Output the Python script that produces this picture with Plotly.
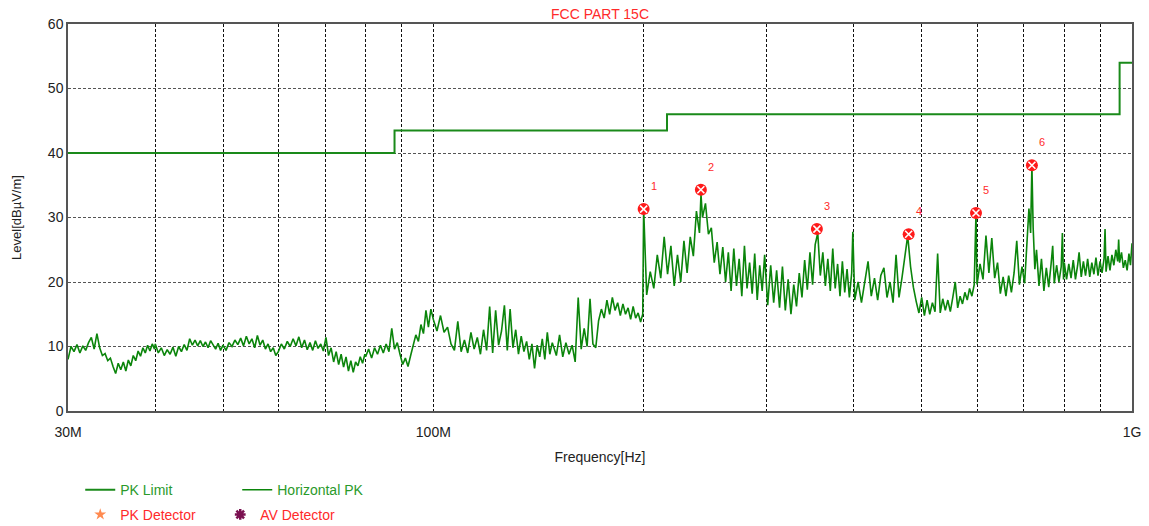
import numpy as np
import plotly.graph_objects as go

# ---------------- data ----------------
x_tick_mhz = [30, 100, 1000]
x_tick_text = ["30M", "100M", "1G"]
x_grid_mhz = [40, 50, 60, 70, 80, 90, 100, 200, 300, 400, 500, 600, 700, 800, 900]

limit_freq_mhz = [30, 88, 216, 960, 1000]
limit_level = [40.0, 43.5, 46.0, 54.0, 54.0]

marker_freq_mhz = [200.0, 241.5, 354.0, 479.0, 598.0, 719.0]
marker_level = [31.3, 34.3, 28.2, 27.4, 30.7, 38.1]
marker_labels = ["1", "2", "3", "4", "5", "6"]

# measured horizontal peak sweep, (MHz, dBuV/m)
seg_030_040 = [(30.0, 8.0), (30.3, 10.0), (30.6, 9.2), (30.9, 10.3), (31.2, 9.0), (31.5, 10.1), (31.8, 9.4),
               (32.1, 10.6), (32.4, 11.4), (32.7, 9.6), (33.0, 12.0), (33.3, 9.8), (33.6, 8.6), (33.9, 8.9),
               (34.2, 7.8), (34.5, 8.2), (34.8, 6.9), (35.1, 5.8), (35.4, 7.4), (35.7, 6.4), (36.0, 7.6),
               (36.3, 6.2), (36.6, 7.9), (36.9, 7.0), (37.2, 8.6), (37.5, 7.8), (37.8, 9.3), (38.1, 8.5),
               (38.4, 9.8), (38.7, 9.0), (39.0, 10.2), (39.3, 9.3), (39.6, 10.4), (39.9, 9.6)]
seg_040_050 = [(40.0, 10.4), (40.4, 9.0), (40.8, 9.8), (41.2, 8.6), (41.6, 9.5), (42.0, 8.8), (42.4, 9.9),
               (42.8, 8.5), (43.2, 10.0), (43.6, 9.2), (44.0, 10.3), (44.4, 9.4), (44.8, 11.2), (45.2, 10.2),
               (45.6, 11.0), (46.0, 10.1), (46.4, 10.9), (46.8, 10.0), (47.2, 10.7), (47.6, 9.8), (48.0, 10.9),
               (48.4, 10.3), (48.8, 9.6), (49.2, 10.5), (49.6, 9.4)]
seg_050_060 = [(50.0, 10.2), (50.5, 9.4), (51.0, 10.6), (51.5, 10.0), (52.0, 11.0), (52.5, 10.3), (53.0, 11.3),
               (53.5, 10.1), (54.0, 11.6), (54.5, 10.4), (55.0, 11.2), (55.5, 9.8), (56.0, 11.7), (56.5, 10.2),
               (57.0, 11.0), (57.5, 9.6), (58.0, 10.4), (58.5, 9.2), (59.0, 9.8), (59.5, 8.6)]
seg_060_080 = [(60.0, 9.2), (60.6, 10.4), (61.2, 9.6), (61.8, 10.8), (62.4, 10.0), (63.0, 11.2), (63.6, 10.1),
               (64.2, 11.5), (64.8, 9.8), (65.4, 11.0), (66.0, 9.5), (66.6, 10.6), (67.2, 9.4), (67.8, 10.9),
               (68.4, 9.7), (69.0, 10.4), (69.6, 9.3), (70.2, 11.4), (70.8, 8.6), (71.4, 9.8), (72.0, 7.6),
               (72.6, 9.2), (73.2, 7.2), (73.8, 8.8), (74.4, 6.8), (75.0, 8.4), (75.6, 6.2), (76.2, 7.8),
               (76.8, 6.0), (77.4, 7.6), (78.0, 7.0), (78.6, 8.4), (79.2, 7.4), (79.8, 8.8)]
seg_080_100 = [(80.0, 8.4), (80.8, 9.6), (81.6, 8.2), (82.4, 9.8), (83.2, 8.8), (84.0, 10.2), (84.8, 9.0),
               (85.6, 10.4), (86.4, 9.2), (87.2, 12.8), (88.0, 9.6), (88.8, 10.6), (89.6, 8.8), (90.4, 7.2),
               (91.2, 8.2), (92.0, 6.9), (92.8, 8.6), (93.6, 10.2), (94.4, 11.8), (95.2, 10.8), (96.0, 13.4),
               (96.8, 12.0), (97.6, 15.6), (98.4, 13.0), (99.2, 15.8)]
seg_100_150 = [(100.0, 14.2), (101.2, 12.4), (102.4, 14.8), (103.6, 12.2), (104.8, 13.0), (106.0, 10.4),
               (107.2, 9.4), (108.4, 13.9), (109.6, 9.2), (110.8, 11.0), (112.0, 9.0), (113.2, 12.2),
               (114.4, 9.6), (115.6, 11.4), (116.8, 8.8), (118.0, 12.6), (119.2, 9.4), (120.4, 16.2),
               (121.6, 9.0), (122.8, 15.6), (124.0, 10.2), (125.2, 12.4), (126.4, 16.4), (127.6, 9.4),
               (128.8, 15.8), (130.0, 9.8), (131.2, 12.6), (132.4, 8.8), (133.6, 11.6), (134.8, 9.2),
               (136.0, 10.8), (137.2, 8.0), (138.4, 10.4), (139.6, 6.6), (140.8, 10.2), (142.0, 8.4),
               (143.2, 11.2), (144.4, 8.0), (145.6, 12.2), (146.8, 8.8), (148.0, 10.6)]
seg_150_200 = [(150.0, 8.6), (151.6, 11.8), (153.2, 8.4), (154.8, 10.6), (156.4, 8.8), (158.0, 10.2),
               (159.6, 7.6), (161.2, 17.6), (162.8, 9.6), (164.4, 12.8), (166.0, 10.0), (167.6, 17.4),
               (169.2, 10.4), (170.8, 9.8), (172.4, 14.0), (174.0, 15.8), (175.6, 14.4), (177.2, 17.2),
               (178.8, 15.0), (180.4, 17.6), (182.0, 15.6), (183.6, 16.8), (185.2, 14.8), (186.8, 16.6),
               (188.4, 15.0), (190.0, 16.0), (191.6, 14.2), (193.2, 16.2), (194.8, 14.4), (196.4, 15.2),
               (198.0, 13.8), (199.4, 15.0), (200.0, 31.3)]
seg_200_300 = [(202.0, 18.0), (204.4, 21.6), (206.8, 19.0), (209.2, 24.2), (211.6, 20.6), (214.0, 27.0),
               (216.4, 21.2), (218.8, 25.6), (221.2, 19.4), (223.6, 24.2), (226.0, 20.0), (228.4, 26.4),
               (230.8, 21.4), (233.2, 27.0), (235.6, 24.0), (238.0, 31.0), (240.4, 27.6), (241.6, 33.6),
               (242.8, 30.0), (245.2, 32.2), (247.6, 27.4), (250.0, 28.4), (252.4, 23.0), (254.8, 26.2),
               (257.2, 21.2), (259.6, 25.4), (262.0, 20.0), (264.4, 24.6), (266.8, 18.6), (269.2, 25.2),
               (271.6, 19.4), (274.0, 23.6), (276.4, 17.8), (278.8, 25.6), (281.2, 19.0), (283.6, 23.0),
               (286.0, 18.2), (288.4, 24.4), (290.8, 17.2), (293.2, 22.6), (295.6, 18.6), (298.0, 24.2)]
seg_300_400 = [(301.0, 16.4), (304.0, 22.6), (307.0, 16.8), (310.0, 21.8), (313.0, 16.0), (316.0, 22.4),
               (319.0, 15.6), (322.0, 20.4), (325.0, 15.0), (328.0, 19.6), (331.0, 16.2), (334.0, 21.4),
               (337.0, 17.6), (340.0, 23.4), (343.0, 18.8), (346.0, 24.6), (349.0, 19.6), (352.0, 25.8),
               (355.0, 27.6), (358.0, 21.0), (361.0, 24.6), (364.0, 19.4), (367.0, 23.6), (370.0, 18.6),
               (373.0, 25.2), (376.0, 19.0), (379.0, 22.8), (382.0, 17.8), (385.0, 23.2), (388.0, 18.4),
               (391.0, 22.0), (394.0, 17.6), (397.0, 21.4), (398.5, 27.8)]
seg_400_600 = [(401.0, 17.2), (405.5, 20.0), (410.0, 16.8), (414.5, 20.4), (419.0, 23.2), (423.5, 17.8),
               (428.0, 20.6), (432.5, 17.2), (437.0, 21.0), (441.5, 22.2), (446.0, 17.6), (450.5, 20.0),
               (455.0, 16.8), (459.5, 24.2), (464.0, 17.6), (468.5, 20.6), (473.0, 23.6), (477.5, 27.2),
               (482.0, 22.4), (486.5, 19.2), (491.0, 17.0), (495.5, 15.2), (500.0, 17.6), (504.5, 14.8),
               (509.0, 17.2), (513.5, 15.0), (518.0, 16.8), (522.5, 15.4), (527.0, 24.4), (531.5, 15.2),
               (536.0, 17.4), (540.5, 15.6), (545.0, 17.2), (549.5, 15.4), (554.0, 17.6), (558.5, 20.0),
               (563.0, 16.0), (567.5, 17.8), (572.0, 16.6), (576.5, 18.4), (581.0, 17.2), (585.5, 19.0),
               (590.0, 17.8), (594.5, 19.6), (598.0, 30.7)]
seg_600_800 = [(600.0, 19.6), (606.0, 22.8), (612.0, 20.4), (618.0, 27.2), (624.0, 21.4), (630.0, 26.8),
               (636.0, 20.6), (642.0, 23.0), (648.0, 18.2), (654.0, 20.8), (660.0, 17.8), (666.0, 21.0),
               (672.0, 18.4), (678.0, 21.4), (684.0, 26.4), (690.0, 19.6), (696.0, 22.4), (702.0, 19.8),
               (708.0, 27.0), (712.0, 31.4), (716.0, 27.6), (719.0, 38.1), (722.0, 28.4), (726.0, 22.0),
               (730.0, 25.0), (736.0, 19.4), (742.0, 23.6), (748.0, 18.6), (754.0, 22.2), (760.0, 19.2),
               (766.0, 22.8), (770.0, 25.6), (774.0, 19.8), (780.0, 22.6), (786.0, 20.0), (792.0, 22.4),
               (795.0, 27.6), (798.0, 20.4)]
seg_800_1000 = [(800.0, 23.0), (806.0, 20.4), (812.0, 22.8), (818.0, 20.6), (824.0, 23.4), (830.0, 20.4),
                (836.0, 22.6), (840.0, 24.6), (846.0, 20.8), (852.0, 23.2), (858.0, 21.0), (864.0, 23.6),
                (870.0, 20.8), (876.0, 23.0), (882.0, 21.2), (888.0, 23.8), (894.0, 21.0), (900.0, 23.2),
                (906.0, 21.4), (912.0, 23.6), (915.0, 28.2), (918.0, 21.6), (924.0, 24.0), (930.0, 21.8),
                (936.0, 24.2), (942.0, 22.6), (948.0, 25.0), (954.0, 23.2), (957.0, 26.6), (960.0, 23.0),
                (966.0, 24.6), (972.0, 22.2), (978.0, 23.4), (984.0, 21.8), (990.0, 24.4), (995.0, 22.6),
                (1000.0, 26.0)]

segments = [seg_030_040, seg_040_050, seg_050_060, seg_060_080, seg_080_100, seg_100_150,
            seg_150_200, seg_200_300, seg_300_400, seg_400_600, seg_600_800, seg_800_1000]
trace_freq_mhz = [p[0] for s in segments for p in s]
trace_level = [p[1] for s in segments for p in s]

# ---------------- style ----------------
GREEN = "#1a8a1a"
RED = "#ff2a2a"
FONT = "Liberation Sans, Arial, sans-serif"
MHZ = 1e6

fig = go.Figure()

fig.add_trace(go.Scatter(
    x=np.array(limit_freq_mhz) * MHZ, y=limit_level, mode="lines", line_shape="hv",
    line=dict(color=GREEN, width=2), name="PK Limit", legend="legend"))

fig.add_trace(go.Scatter(
    x=np.array(trace_freq_mhz) * MHZ, y=trace_level, mode="lines",
    line=dict(color="#0b850b", width=1.6), name="Horizontal PK", legend="legend"))

fig.add_trace(go.Scatter(
    x=np.array(marker_freq_mhz) * MHZ, y=marker_level, mode="markers",
    marker=dict(symbol="circle", size=12, color="#ff1a1a", line=dict(width=0)),
    showlegend=False, hoverinfo="skip"))
fig.add_trace(go.Scatter(
    x=np.array(marker_freq_mhz) * MHZ, y=marker_level, mode="markers",
    marker=dict(symbol="x-thin", size=7, line=dict(color="white", width=1.6)),
    showlegend=False, hoverinfo="skip"))

fig.add_trace(go.Scatter(
    x=[None], y=[None], mode="markers", name="PK Detector", legend="legend2",
    marker=dict(symbol="star", size=9, color="#ff8a50")))
fig.add_trace(go.Scatter(
    x=[None], y=[None], mode="markers", name="AV Detector", legend="legend2",
    marker=dict(symbol="asterisk-open", size=9, color="#7a1050",
                line=dict(color="#7a1050", width=2.5))))

for f, l, t in zip(marker_freq_mhz, marker_level, marker_labels):
    fig.add_annotation(x=np.log10(f * MHZ), y=l, text=t, showarrow=False,
                       xshift=10, yshift=23, font=dict(color=RED, size=11, family=FONT))

grid_vals = sorted(set(x_grid_mhz + x_tick_mhz))
grid_text = [x_tick_text[x_tick_mhz.index(v)] if v in x_tick_mhz else "" for v in grid_vals]

fig.update_layout(
    width=1149, height=526, autosize=False,
    margin=dict(l=68, r=17, t=24, b=115, autoexpand=False),
    paper_bgcolor="white", plot_bgcolor="white",
    font=dict(family=FONT, color="#222", size=14),
    title=dict(text="FCC PART 15C", x=0.5, xref="paper", xanchor="center",
               y=1 - 14 / 526, yref="container", yanchor="middle",
               font=dict(color=RED, size=14, family=FONT)),
    xaxis=dict(type="log", range=[np.log10(30 * MHZ), np.log10(1000 * MHZ)],
               tickmode="array", tickvals=[v * MHZ for v in grid_vals], ticktext=grid_text,
               showgrid=True, gridcolor="#111", griddash="3px,2px", gridwidth=1,
               showline=True, mirror=True, linecolor="#555", linewidth=1.5,
               ticks="", zeroline=False, tickfont=dict(size=14, color="#222"),
               ticklabelstandoff=7, automargin=False,
               title=dict(text="Frequency[Hz]", font=dict(size=14, color="#222"), standoff=14)),
    yaxis=dict(range=[0, 60], tickmode="linear", tick0=0, dtick=10,
               showgrid=True, gridcolor="#555", griddash="3px,2px", gridwidth=1,
               showline=True, mirror=True, linecolor="#555", linewidth=1.5,
               ticks="", zeroline=False, tickfont=dict(size=14, color="#222"), automargin=False,
               title=dict(text="Level[dBµV/m]", font=dict(size=13, color="#222"), standoff=23)),
    legend=dict(orientation="h", x=0.0115, xanchor="left", y=-0.163, yanchor="top",
                font=dict(color="#2a9a2a", size=14, family=FONT),
                entrywidth=112, entrywidthmode="pixels", bgcolor="rgba(0,0,0,0)"),
    legend2=dict(orientation="h", x=0.0115, xanchor="left", y=-0.227, yanchor="top",
                 font=dict(color=RED, size=14, family=FONT),
                 entrywidth=95, entrywidthmode="pixels", bgcolor="rgba(0,0,0,0)"),
)

fig.write_html("out.html")
